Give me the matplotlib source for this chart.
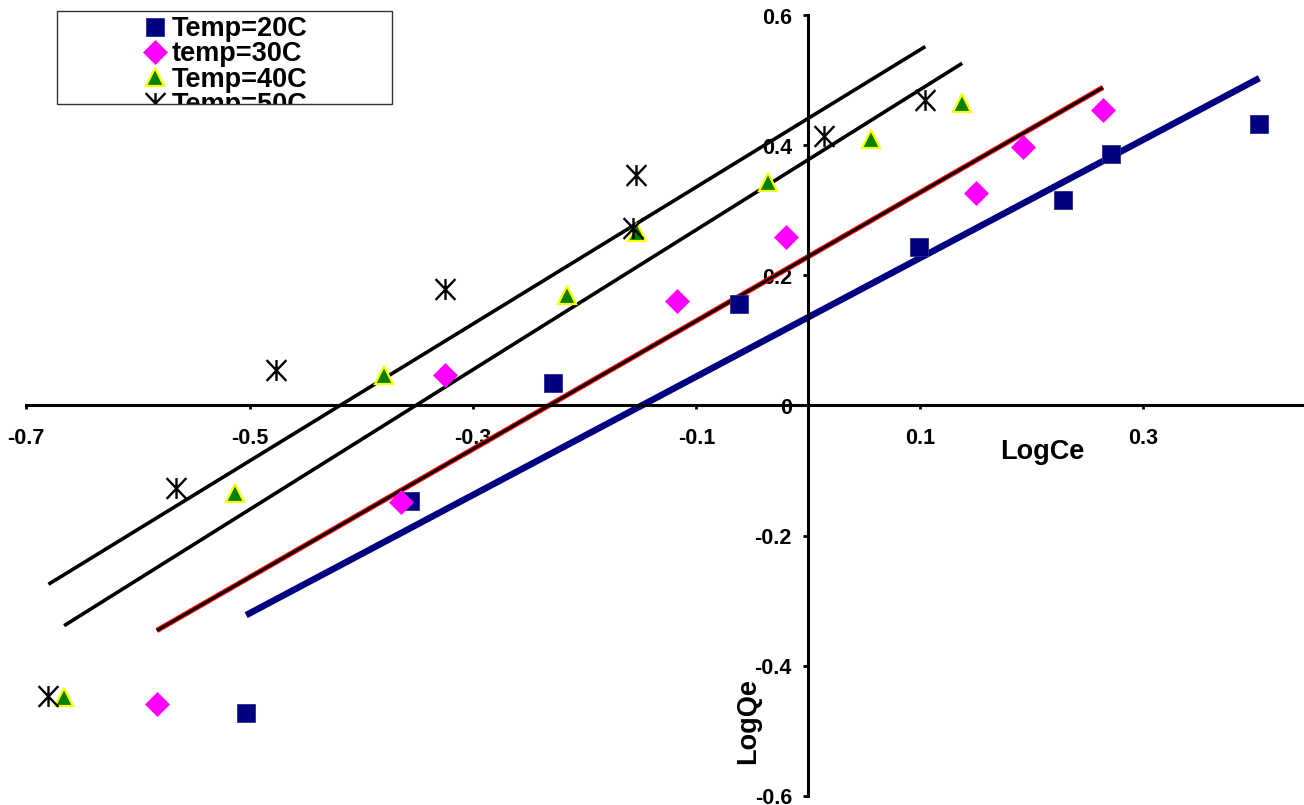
import numpy as np
import matplotlib
matplotlib.use("Agg")
import matplotlib.pyplot as plt
from matplotlib.path import Path
from matplotlib.patches import Rectangle
from matplotlib.transforms import Bbox, TransformedBbox

plt.rcParams['font.family'] = ['Liberation Sans', 'DejaVu Sans']
plt.rcParams['font.weight'] = 'bold'

# data (LogCe, LogQe)
labels = ["Temp=20C", "temp=30C", "Temp=40C", "Temp=50C"]
x20 = [-0.503, -0.356, -0.228, -0.062, 0.099, 0.228, 0.271, 0.404]
y20 = [-0.473, -0.147, 0.035, 0.156, 0.244, 0.316, 0.387, 0.433]
x30 = [-0.583, -0.364, -0.325, -0.117, -0.020, 0.150, 0.192, 0.264]
y30 = [-0.459, -0.148, 0.047, 0.161, 0.259, 0.327, 0.397, 0.455]
x40 = [-0.666, -0.513, -0.380, -0.216, -0.153, -0.036, 0.056, 0.138]
y40 = [-0.449, -0.135, 0.047, 0.170, 0.267, 0.344, 0.410, 0.465]
x50 = [-0.680, -0.566, -0.476, -0.325, -0.157, -0.154, 0.014, 0.105]
y50 = [-0.447, -0.127, 0.055, 0.179, 0.273, 0.355, 0.415, 0.470]

xticks = [-0.7, -0.5, -0.3, -0.1, 0.1, 0.3]
xticklabels = ["-0.7", "-0.5", "-0.3", "-0.1", "0.1", "0.3"]
yticks = [-0.6, -0.4, -0.2, 0, 0.2, 0.4, 0.6]
yticklabels = ["-0.6", "-0.4", "-0.2", "0", "0.2", "0.4", "0.6"]

W, H = 1304, 805
fig = plt.figure(figsize=(W / 100, H / 100), dpi=100)
ax = fig.add_axes([26.1 / W, 9.5 / H, 1277.9 / W, 780 / H])
ax.set_xlim(-0.7, 0.444)
ax.set_ylim(-0.6, 0.6)

# star marker: vertical bar plus an X
star = Path([(0, -1), (0, 1), (-0.95, -1), (0.95, 1), (-0.95, 1), (0.95, -1)],
            [Path.MOVETO, Path.LINETO] * 3)


def trend(ax, x, y, color, lw, z=2):
    # linear trendline over the data range
    k, b = np.polyfit(x, y, 1)
    xs = np.array([min(x), max(x)])
    ax.plot(xs, k * xs + b, color=color, lw=lw, solid_capstyle='butt', zorder=z)


trend(ax, x20, y20, "#000080", 4.7)
trend(ax, x30, y30, "#FF0000", 3.8)
trend(ax, x30, y30, "black", 2.0, z=2.1)
trend(ax, x40, y40, "black", 2.6)
trend(ax, x50, y50, "black", 2.6)

h1, = ax.plot(x20, y20, ls='none', marker='s', ms=13, mfc="#000080", mec="#2a2a90", mew=0.6, zorder=3)
h2, = ax.plot(x30, y30, ls='none', marker='D', ms=11.8, mfc="#FF00FF", mec="#FF00FF", mew=0.5, zorder=3)
h3, = ax.plot(x40, y40, ls='none', marker='^', ms=12.5, mfc="#008000", mec="#FFFF00", mew=1.6, zorder=3)
h4, = ax.plot(x50, y50, ls='none', marker=star, ms=15, mfc='none', mec="black", mew=1.7, zorder=3)

# axes crossing at the origin
for s in ['top', 'right']:
    ax.spines[s].set_visible(False)
ax.spines['left'].set_position(('data', 0))
ax.spines['bottom'].set_position(('data', 0))
ax.spines['left'].set_linewidth(2.2)
ax.spines['bottom'].set_linewidth(2.2)

ax.set_xticks(xticks)
ax.set_xticklabels(xticklabels)
ax.set_yticks(yticks)
ax.set_yticklabels(yticklabels)
ax.tick_params(axis='x', direction='out', length=3, width=2, pad=13, labelsize=15.5)
ax.tick_params(axis='y', direction='out', length=3.6, width=2, pad=8, labelsize=15.5)

ax.set_xlabel("LogCe", fontsize=19.5, fontweight='bold', va='baseline')
ax.xaxis.set_label_coords(0.795, 0.4314)
ax.set_ylabel("LogQe", fontsize=19.5, fontweight='bold', va='baseline')
ax.yaxis.set_label_coords(0.5704, 0.0955)

# legend, clipped by its box like the original
leg = ax.legend([h1, h2, h3, h4], labels, loc='upper left',
                bbox_to_anchor=(147 / W, 1 - 16 / H), bbox_transform=fig.transFigure,
                frameon=False, prop={'weight': 'bold', 'size': 19.5},
                handlelength=0.6, handletextpad=0.3, labelspacing=-0.02,
                borderpad=0, borderaxespad=0, numpoints=1)
clipbox = TransformedBbox(Bbox.from_extents(57 / W, 1 - 104 / H, 392 / W, 1 - 11 / H), fig.transFigure)
for t in leg.get_texts():
    t.set_clip_box(clipbox)
    t.set_clip_on(True)
for h in leg.legend_handles:
    h.set_clip_box(clipbox)
    h.set_clip_on(True)
fig.add_artist(Rectangle((57 / W, 1 - 104 / H), 335 / W, 93 / H, transform=fig.transFigure,
                         fill=False, ec="#333333", lw=1))

fig.savefig("out.png", dpi=100)
